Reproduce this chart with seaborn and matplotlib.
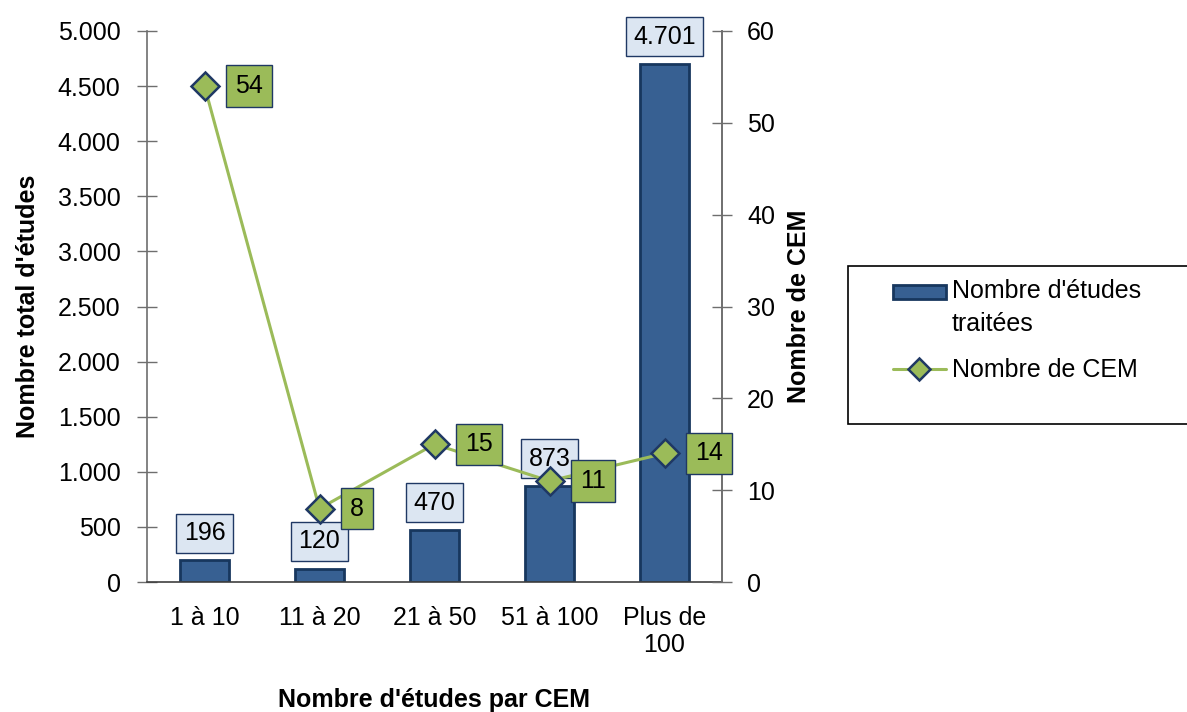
import matplotlib
matplotlib.use("Agg")
import matplotlib.pyplot as plt
from matplotlib.ticker import FuncFormatter, MultipleLocator, FixedLocator
from matplotlib.patches import Patch, Rectangle
from matplotlib.lines import Line2D
from matplotlib.legend_handler import HandlerPatch
import numpy as np
import pandas as pd
import seaborn as sns

# Data
categories = ["1 à 10", "11 à 20", "21 à 50", "51 à 100", "Plus de\n100"]
etudes = [196, 120, 470, 873, 4701]
cem = [54, 8, 15, 11, 14]

BAR_FACE = "#376092"
BAR_EDGE = "#17375E"
GREEN = "#9BBB59"
NAVY = "#1F3864"
LABEL_FACE = "#DCE6F2"
AXIS_GREY = "#6E6E6E"
FS = 18

sns.set_style("white")
plt.rcParams["font.family"] = ["Liberation Sans", "DejaVu Sans"]
plt.rcParams["font.size"] = FS
plt.rcParams["text.color"] = "black"
plt.rcParams["axes.labelcolor"] = "black"
plt.rcParams["xtick.color"] = "black"
plt.rcParams["ytick.color"] = "black"

def fr_thousands(v, pos=None):
    return f"{int(round(v)):,}".replace(",", ".")

df = pd.DataFrame({"cat": categories, "etudes": etudes, "cem": cem,
                   "pos": np.arange(len(categories))})

fig = plt.figure(figsize=(11.87, 7.12), dpi=100)
ax = fig.add_axes([147 / 1187, 1 - 582 / 712, (722 - 147) / 1187, (582 - 31) / 712])

sns.barplot(data=df, x="cat", y="etudes", ax=ax, color=BAR_FACE, width=0.42,
            edgecolor=BAR_EDGE, linewidth=2, saturation=1)
for p in ax.patches:
    p.set_facecolor(BAR_FACE)

ax.set_xlim(-0.5, len(categories) - 0.5)
ax.set_ylim(0, 5000)
ax.yaxis.set_major_locator(MultipleLocator(500))
ax.yaxis.set_major_formatter(FuncFormatter(fr_thousands))
ax.set_xlabel("Nombre d'études par CEM", fontweight="bold", labelpad=22)
ax.set_ylabel("Nombre total d'études", fontweight="bold", labelpad=13)

# category boundaries carry the tick marks
ax.xaxis.set_minor_locator(FixedLocator(np.arange(0.5, len(categories) - 0.5, 1)))
ax.tick_params(axis="x", which="major", length=0, pad=17)
ax.tick_params(axis="x", which="minor", direction="inout", length=14, width=1,
               color=AXIS_GREY)
ax.tick_params(axis="y", direction="inout", length=14, width=1, color=AXIS_GREY,
               pad=12)

ax.spines["top"].set_visible(False)
for s in ["left", "right", "bottom"]:
    ax.spines[s].set_color(AXIS_GREY)
    ax.spines[s].set_linewidth(1.2)
ax.spines["bottom"].set_color("#404040")

# value labels above bars
for i, v in enumerate(etudes):
    ax.annotate(fr_thousands(v), xy=(i, v), xytext=(0, 11), textcoords="offset points",
                ha="center", va="bottom", fontsize=FS,
                bbox=dict(boxstyle="square,pad=0.3", fc=LABEL_FACE, ec=NAVY, lw=1))

# secondary axis: number of CEM
ax2 = ax.twinx()
sns.lineplot(data=df, x="pos", y="cem", ax=ax2, color=GREEN, linewidth=2.2,
             marker="D", markersize=14, markerfacecolor=GREEN,
             markeredgecolor=NAVY, markeredgewidth=1.8)
ax2.set_xlim(-0.5, len(categories) - 0.5)
ax2.set_ylim(0, 60)
ax2.yaxis.set_major_locator(MultipleLocator(10))
ax2.set_ylabel("Nombre de CEM", fontweight="bold", rotation=90, labelpad=9)
ax2.set_xlabel("")
ax2.tick_params(axis="y", direction="inout", length=14, width=1, color=AXIS_GREY,
                pad=11)
for s in ["top", "left", "bottom"]:
    ax2.spines[s].set_visible(False)
ax2.spines["right"].set_color(AXIS_GREY)
ax2.spines["right"].set_linewidth(1.2)

for i, v in enumerate(cem):
    ax2.annotate(str(v), xy=(i, v), xytext=(22, 0), textcoords="offset points",
                 ha="left", va="center", fontsize=FS,
                 bbox=dict(boxstyle="square,pad=0.35", fc=GREEN, ec=NAVY, lw=1))

# legend box running off the right edge of the figure
fig.patches.append(Rectangle((848 / 1187, 1 - 424 / 712), 0.5, (424 - 266) / 712,
                             transform=fig.transFigure, fc="white", ec="black",
                             lw=1.2, zorder=0))


def top_line_patch(legend, orig_handle, xdescent, ydescent, width, height, fontsize):
    # bar swatch sits level with the first line of a two-line label
    return Rectangle((-xdescent, -ydescent + 11.5), width, height)


handles = [
    Patch(facecolor=BAR_FACE, edgecolor=BAR_EDGE, linewidth=2),
    Line2D([0], [0], color=GREEN, linewidth=2.2, marker="D", markersize=11,
           markerfacecolor=GREEN, markeredgecolor=NAVY, markeredgewidth=1.8),
]
leg = fig.legend(handles, ["Nombre d'études\ntraitées", "Nombre de CEM"],
                 loc="upper left", bbox_to_anchor=(893 / 1187, 1 - 279 / 712),
                 frameon=False, fontsize=FS, handlelength=2.1, handleheight=0.5,
                 handletextpad=0.25, borderpad=0, labelspacing=0.9,
                 borderaxespad=0,
                 handler_map={Patch: HandlerPatch(patch_func=top_line_patch)})
for t in leg.get_texts():
    t.set_linespacing(1.45)

fig.savefig("out.png", dpi=100)
